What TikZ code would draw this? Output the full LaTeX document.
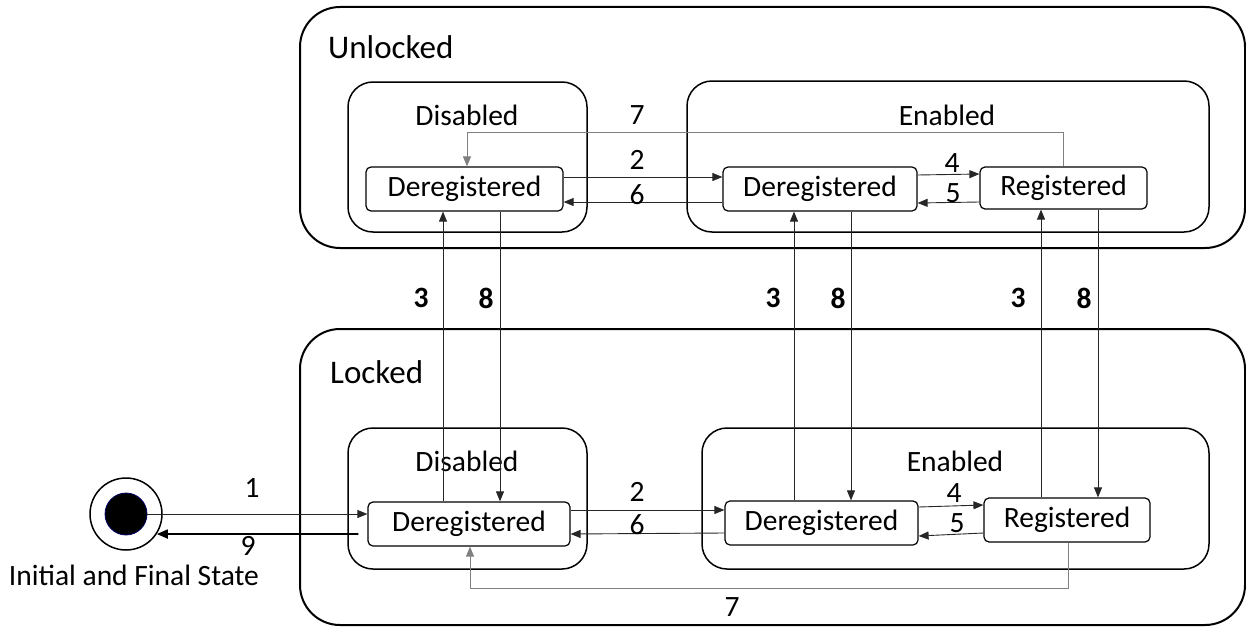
\documentclass[tikz,border=0pt]{standalone}
\usepackage{fontspec}
\setmainfont{Carlito}
\usetikzlibrary{arrows.meta,calc}
\begin{document}
\begin{tikzpicture}[x=1pt,y=-1pt,
  every node/.style={font=\fontsize{29.5}{31}\selectfont, inner sep=0pt},
  outerbox/.style={draw, line width=2pt, rounded corners=40pt},
  midbox/.style={draw, line width=1.5pt, rounded corners=25pt},
  statebox/.style={draw, line width=1.2pt, rounded corners=5pt, rectangle},
  arr/.style={draw=black!85, line width=0.9pt, -{Triangle[length=10pt,width=8pt]}},
  garr/.style={draw=black!50, line width=0.9pt, -{Triangle[length=10pt,width=8pt]}}
]
\useasboundingbox (0,0) rectangle (1246,626);
% outer composite states
\draw[outerbox] (300,7) rectangle (1245,248);
\draw[outerbox] (300,329) rectangle (1245,625);
\node[anchor=west, font=\fontsize{33}{35}\selectfont] (unl) at (328,47) {Unlocked};
\node[anchor=west, font=\fontsize{33}{35}\selectfont] (lck) at (330,372) {Locked};
% middle composite states
\draw[midbox] (348,82) rectangle (587,232);
\draw[midbox] (687,81) rectangle (1209,232);
\draw[midbox] (348,428) rectangle (587,569);
\draw[midbox] (702,428) rectangle (1209,569);
\node (udis) at (467,115) {Disabled};
\node (uen) at (947,115) {Enabled};
\node (ldis) at (467,461) {Disabled};
\node (len) at (955,461) {Enabled};
% simple states
\node[statebox, minimum width=197pt, minimum height=44pt] (UDD) at (464.5,189) {Deregistered};
\node[statebox, minimum width=194pt, minimum height=44pt] (UED) at (820,189) {Deregistered};
\node[statebox, minimum width=167pt, minimum height=42pt] (UR) at (1063.5,188) {Registered};
\node[statebox, minimum width=202pt, minimum height=44pt] (LDD) at (469,524) {Deregistered};
\node[statebox, minimum width=193pt, minimum height=44pt] (LED) at (821.5,523) {Deregistered};
\node[statebox, minimum width=166pt, minimum height=44pt] (LR) at (1067,520) {Registered};
% initial / final state
\node[circle, draw, line width=1.5pt, minimum size=72pt] (outer) at (126,514) {};
\node[circle, fill=black, draw=blue!40!black, line width=0.8pt, minimum size=42pt] (init) at (126,514) {};
\node (caption) at (134,575) {Initial and Final State};
% top transitions
\draw[garr] (UR.north) -- ++(0,-34) -| ([xshift=2.5pt]UDD.north);
\node (t7) at (637,115) {7};
\draw[arr] ([yshift=12pt]UDD.east) -- ([yshift=12pt]UED.west);
\node (t2) at (637,160) {2};
\draw[arr] ([yshift=-13pt]UED.west) -- ([yshift=-13pt]UDD.east);
\node (t6) at (637,195) {6};
\draw[arr] ([yshift=14pt]UED.east) -- ([yshift=14pt]UR.west);
\node (t4) at (952,163) {4};
\draw[arr] ([yshift=-14pt]UR.west) -- ([yshift=-14pt]UED.east);
\node (t5) at (953,193) {5};
% vertical transitions
\draw[arr] ([xshift=-26pt]LDD.north) coordinate (a1) -- (a1 |- UDD.south);
\draw[arr] ([xshift=35.5pt]UDD.south) coordinate (b1) -- (b1 |- LDD.north);
\draw[arr] ([xshift=-27.5pt]LED.north) coordinate (a2) -- (a2 |- UED.south);
\draw[arr] ([xshift=31pt]UED.south) coordinate (b2) -- (b2 |- LED.north);
\draw[arr] ([xshift=-26pt]LR.north) coordinate (a3) -- (a3 |- UR.south);
\draw[arr] ([xshift=34.5pt]UR.south) coordinate (b3) -- (b3 |- LR.north);
\node (v3a) at (421,298) {\bfseries 3};
\node (v8a) at (486,298) {\bfseries 8};
\node (v3b) at (773,298) {\bfseries 3};
\node (v8b) at (838,298) {\bfseries 8};
\node (v3c) at (1018,298) {\bfseries 3};
\node (v8c) at (1084,298) {\bfseries 8};
% bottom transitions
\draw[arr] ([yshift=14pt]LDD.east) -- ([yshift=13pt]LED.west);
\node (b2l) at (637,492) {2};
\draw[arr] ([yshift=-10pt]LED.west) -- ([yshift=-10pt]LDD.east);
\node (b6l) at (637,525) {6};
\draw[arr] ([yshift=16pt]LED.east) -- ([yshift=15pt]LR.west);
\node (b4l) at (954,493) {4};
\draw[arr] ([yshift=-13pt]LR.west) -- ([yshift=-13pt]LED.east);
\node (b5l) at (957,523) {5};
\draw[garr] ([xshift=1pt]LR.south) -- ++(0,46) -| ([xshift=1pt]LDD.south);
\node (b7l) at (732,607) {7};
% initial/final transitions
\draw[arr] (init.east) -- (init.east -| LDD.west);
\node (l1) at (252,488) {1};
\draw[line width=1.8pt, -{Triangle[length=11pt,width=9pt]}] ([shift={(-9pt,-10pt)}]LDD.west) -- (outer.-33.7);
\node (l9) at (248,546) {9};
\end{tikzpicture}
\end{document}
